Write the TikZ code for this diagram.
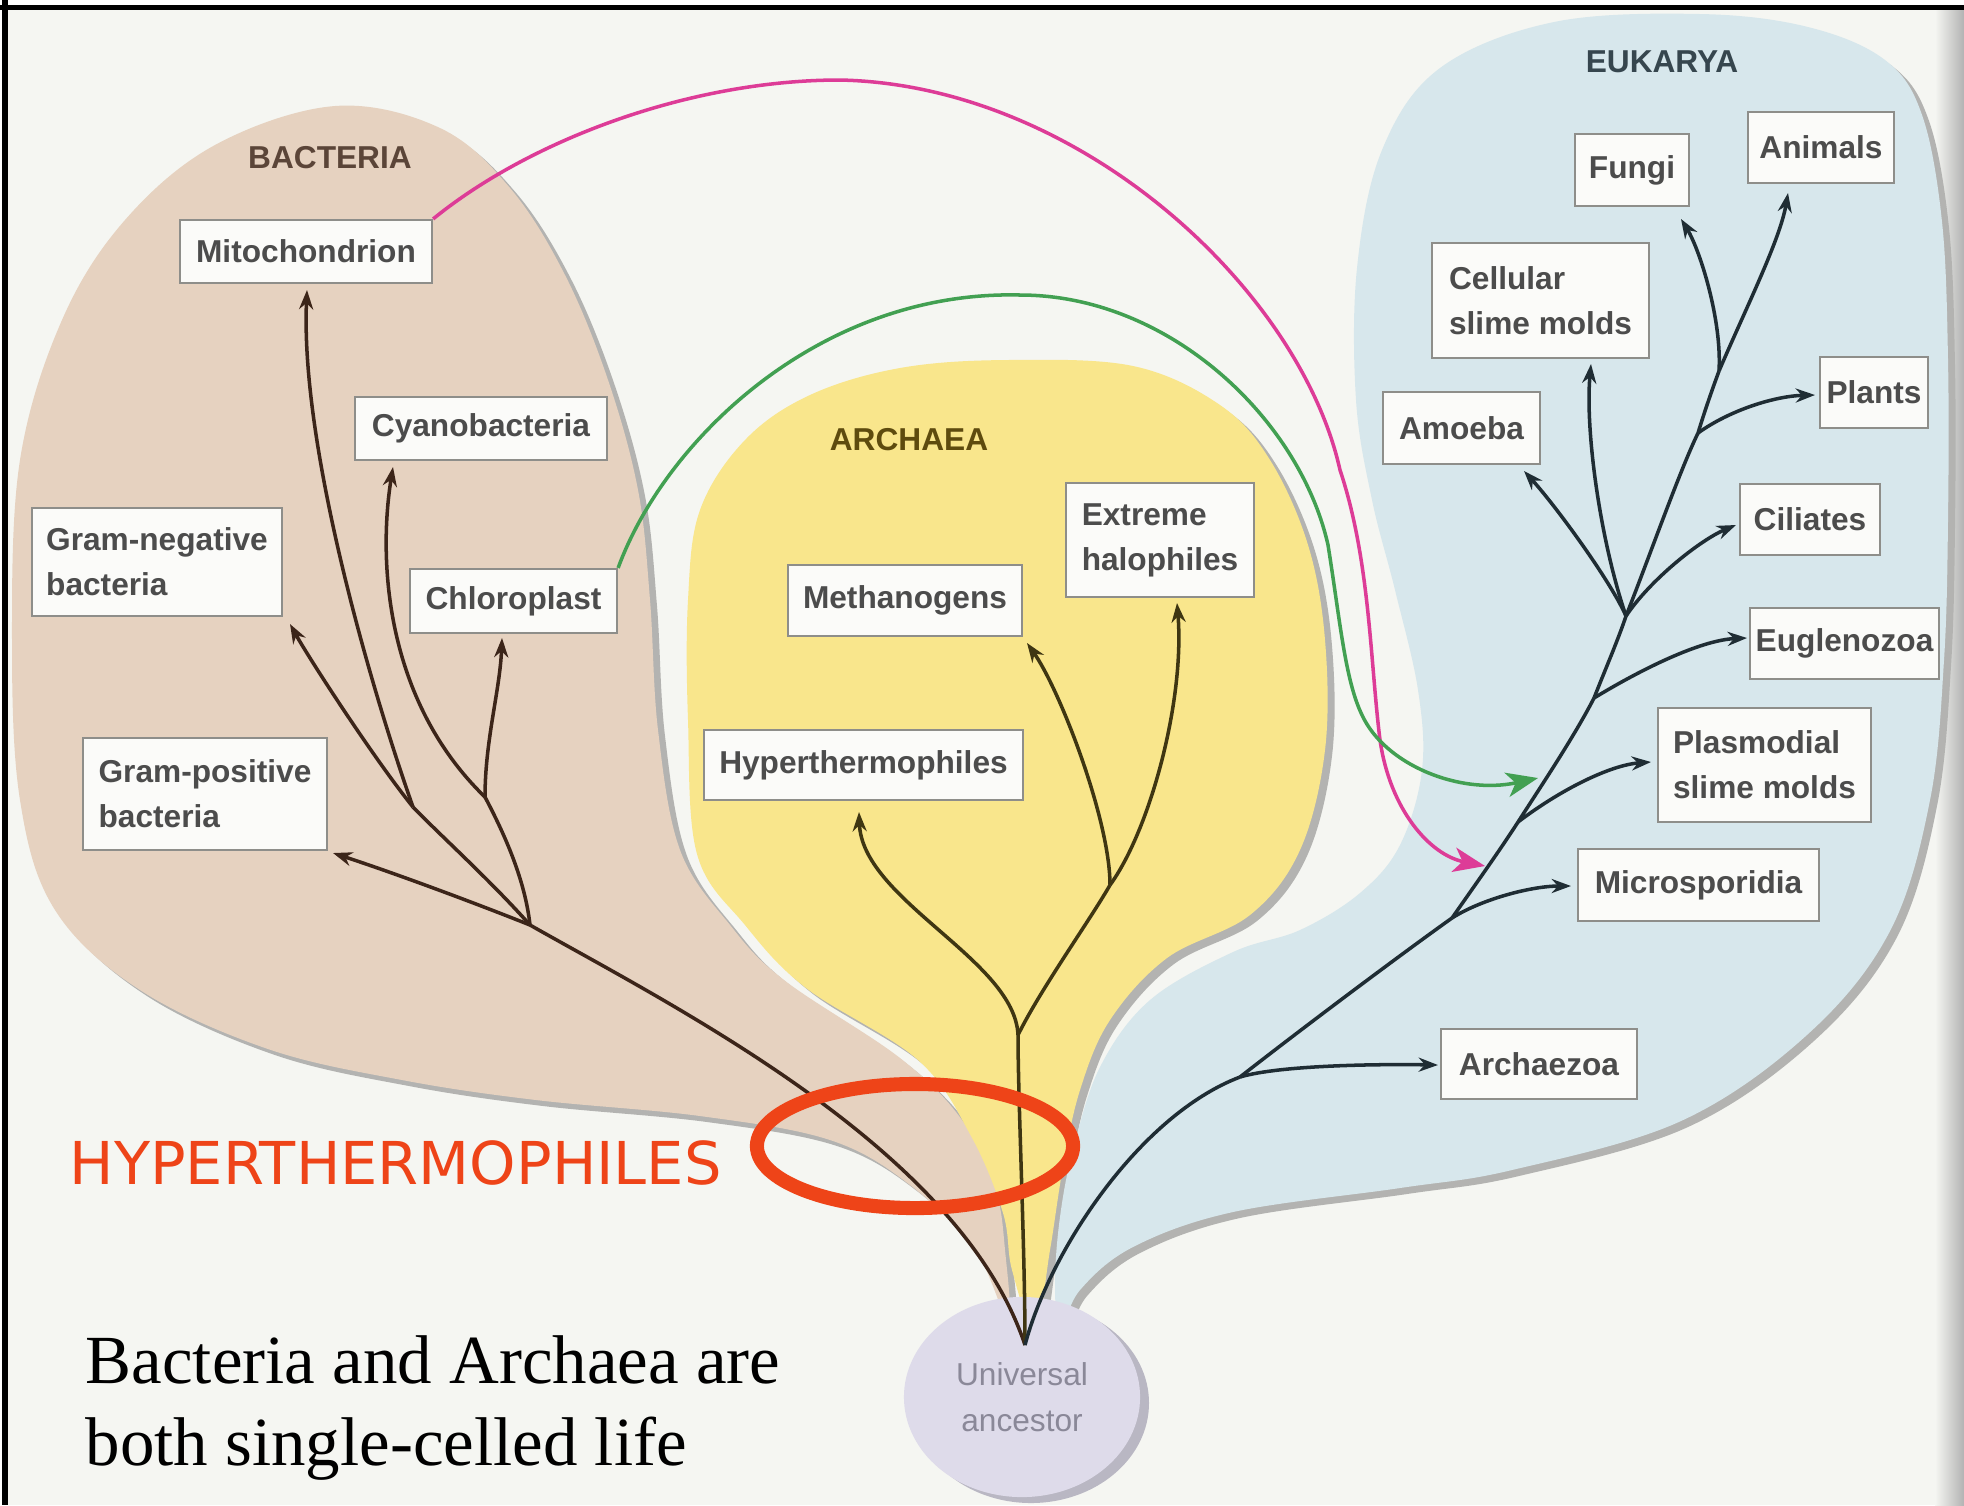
\documentclass[tikz,border=0pt]{standalone}
\usepackage{fontspec}
\setmainfont{Liberation Serif}
\setsansfont{Liberation Sans}
\newfontfamily\ringfont{DejaVu Sans}
\usetikzlibrary{arrows.meta,shapes.geometric}

\definecolor{paper}{HTML}{F5F6F2}
\definecolor{bacfill}{HTML}{E6D2C0}
\definecolor{arcfill}{HTML}{F9E68C}
\definecolor{eukfill}{HTML}{D7E7EC}
\definecolor{shadowgray}{HTML}{B3B3B1}
\definecolor{ancfill}{HTML}{DEDBEA}
\definecolor{ancshadow}{HTML}{B9B7C3}
\definecolor{anctext}{HTML}{8A8898}
\definecolor{boxline}{HTML}{8E8E8A}
\definecolor{boxfill}{HTML}{FBFBF9}
\definecolor{boxtext}{HTML}{4C4C4C}
\definecolor{bactree}{HTML}{3C2519}
\definecolor{arctree}{HTML}{3F3612}
\definecolor{euktree}{HTML}{1F2D34}
\definecolor{endomag}{HTML}{DD3C97}
\definecolor{endogreen}{HTML}{42A052}
\definecolor{ringred}{HTML}{EE4418}
\definecolor{bacword}{HTML}{5B4538}
\definecolor{arcword}{HTML}{5E4B0E}
\definecolor{eukword}{HTML}{36464E}

\tikzset{
  box/.style={draw=boxline, line width=0.6pt, fill=boxfill, text=boxtext,
    inner sep=0pt, align=left, font=\sffamily\bfseries\fontsize{9}{12.8}\selectfont},
  domain label/.style={inner sep=0pt, font=\sffamily\bfseries\fontsize{9}{11}\selectfont},
  branch/.style={line width=1pt},
  tipped/.style={branch, -{Stealth[length=5.5pt,width=4pt]}},
  transfer/.style={line width=1pt, -{Stealth[length=9pt,width=7pt,inset=2.5pt]}},
  bacblob/.pic={\path[pic actions] plot[smooth cycle, tension=0.6] coordinates {
    (335,106) (440,128) (510,188) (565,275) (608,380) (638,490) (650,600)
    (658,730) (680,850) (730,925) (784,980) (900,1058) (962,1120) (995,1188)
    (1005,1250) (1008,1320) (975,1250) (910,1185) (830,1140) (700,1116)
    (536,1100) (402,1080) (268,1049) (140,990) (55,910) (20,800) (12,640)
    (20,460) (62,320) (125,220) (215,145)};},
  arcblob/.pic={\path[pic actions] plot[smooth cycle, tension=0.6] coordinates {
    (1007,360) (1133,366) (1220,405) (1270,460) (1308,545) (1325,640)
    (1325,750) (1300,850) (1250,915) (1167,958) (1110,1020) (1080,1090)
    (1063,1167) (1050,1250) (1035,1330) (1012,1270) (1003,1213) (971,1136)
    (918,1060) (806,988) (745,925) (697,854) (688,720) (688,600) (700,510)
    (745,440) (810,395) (900,368)};},
  eukblob/.pic={\path[pic actions] plot[smooth cycle, tension=0.6] coordinates {
    (1554,22) (1700,14) (1808,27) (1885,60) (1922,115) (1942,222) (1948,360)
    (1948,520) (1944,660) (1930,800) (1890,931) (1808,1034) (1681,1121)
    (1512,1170) (1400,1188) (1233,1212) (1133,1247) (1080,1290) (1060,1330)
    (1055,1283) (1060,1217) (1073,1150) (1100,1067) (1150,1000) (1233,952)
    (1300,930) (1360,893) (1400,845) (1422,770) (1418,690) (1395,590)
    (1372,500) (1356,400) (1357,268) (1382,150) (1440,68)};},
}

\begin{document}
\begin{tikzpicture}[x=0.01cm, y=-0.01cm]
\useasboundingbox (0,0) rectangle (1964,1505);

% page
\fill[white] (0,0) rectangle (1964,1505);
\fill[paper] (5,7) rectangle (1964,1505);
\shade[left color=paper, right color=black!30] (1935,10) rectangle (1964,1505);

% domain regions with their grey rims
\pic[fill=shadowgray] at (7,6) {bacblob};
\pic[fill=shadowgray] at (7,6) {arcblob};
\pic[fill=shadowgray] at (7,6) {eukblob};
\pic[fill=bacfill] at (0,0) {bacblob};
\pic[fill=arcfill] at (0,0) {arcblob};
\pic[fill=eukfill] at (0,0) {eukblob};

% universal ancestor
\fill[ancshadow] (1031,1403) ellipse [x radius=118, y radius=100];
\node[ellipse, fill=ancfill, minimum width=2.36cm, minimum height=2cm, inner sep=0pt,
  align=center, text=anctext, font=\sffamily\fontsize{9}{13}\selectfont]
  (ancestor) at (1022,1397) {Universal\\ancestor};

% domain names
\node[domain label, text=bacword] (bactlabel) at (330,158) {BACTERIA};
\node[domain label, text=arcword] (archlabel) at (909,440) {ARCHAEA};
\node[domain label, text=eukword] (euklabel) at (1662,62) {EUKARYA};

% group boxes
\node[box, minimum width=2.52cm, minimum height=0.63cm] (mito) at (306,251.5) {Mitochondrion};
\node[box, minimum width=2.52cm, minimum height=0.63cm] (cyano) at (481,428.5) {Cyanobacteria};
\node[box, minimum width=2.50cm, minimum height=1.08cm] (gramneg) at (157,562) {Gram-negative\\bacteria};
\node[box, minimum width=2.07cm, minimum height=0.64cm] (chloro) at (513.5,601) {Chloroplast};
\node[box, minimum width=2.44cm, minimum height=1.12cm] (grampos) at (205,794) {Gram-positive\\bacteria};
\node[box, minimum width=2.34cm, minimum height=0.71cm] (methano) at (905,600.5) {Methanogens};
\node[box, minimum width=1.88cm, minimum height=1.14cm] (halo) at (1160,540) {Extreme\\halophiles};
\node[box, minimum width=3.19cm, minimum height=0.70cm] (hyper) at (863.5,765) {Hyperthermophiles};
\node[box, minimum width=1.14cm, minimum height=0.72cm] (fungi) at (1632,170) {Fungi};
\node[box, minimum width=1.46cm, minimum height=0.71cm] (animals) at (1821,147.5) {Animals};
\node[box, minimum width=2.17cm, minimum height=1.15cm] (cellular) at (1540.5,300.5) {Cellular\\slime molds};
\node[box, minimum width=1.57cm, minimum height=0.72cm] (amoeba) at (1461.5,428) {Amoeba};
\node[box, minimum width=1.08cm, minimum height=0.71cm] (plants) at (1874,392.5) {Plants};
\node[box, minimum width=1.40cm, minimum height=0.71cm] (ciliates) at (1810,519.5) {Ciliates};
\node[box, minimum width=1.89cm, minimum height=0.71cm] (eugleno) at (1844.5,643.5) {Euglenozoa};
\node[box, minimum width=2.13cm, minimum height=1.14cm] (plasmo) at (1764.5,765) {Plasmodial\\slime molds};
\node[box, minimum width=2.41cm, minimum height=0.72cm] (micro) at (1698.5,885) {Microsporidia};
\node[box, minimum width=1.96cm, minimum height=0.70cm] (archaezoa) at (1539,1064) {Archaezoa};

% branch points and arrow ends
\coordinate (root) at (1025,1345);
\coordinate (b0) at (530,925);
\coordinate (b1) at (413,807);
\coordinate (b2) at (485,797);
\coordinate (gpt) at (333,853);
\coordinate (gnt) at (290,624);
\coordinate (mtt) at (307,290);
\coordinate (cyt) at (393,467);
\coordinate (clt) at (502,638);
\coordinate (a0) at (1018,1035);
\coordinate (a1) at (1110,885);
\coordinate (hyt) at (859,812);
\coordinate (met) at (1027,643);
\coordinate (hat) at (1177,603);
\coordinate (e0) at (1240,1077);
\coordinate (e1) at (1452,918);
\coordinate (e2) at (1518,822);
\coordinate (e3) at (1594,698);
\coordinate (e4) at (1626,616);
\coordinate (e5) at (1698,433);
\coordinate (e6) at (1719,371);
\coordinate (azt) at (1438,1065);
\coordinate (mst) at (1571,886);
\coordinate (plt) at (1651,762);
\coordinate (eut) at (1747,638);
\coordinate (amt) at (1524,471);
\coordinate (cst) at (1591,364);
\coordinate (cit) at (1736,525);
\coordinate (pnt) at (1815,395);
\coordinate (fut) at (1681,219);
\coordinate (ant) at (1788,193);
\coordinate (magtip) at (1485,866);
\coordinate (grntip) at (1538,778);

% bacteria
\draw[branch, bactree] (root) .. controls (960,1150) and (680,1010) .. (b0);
\draw[tipped, bactree] (b0) .. controls (480,905) and (400,875) .. (gpt);
\draw[branch, bactree] (b0) .. controls (490,880) and (440,835) .. (b1);
\draw[branch, bactree] (b0) .. controls (525,880) and (505,835) .. (b2);
\draw[tipped, bactree] (b1) .. controls (375,760) and (310,660) .. (gnt);
\draw[tipped, bactree] (b1) .. controls (375,700) and (300,450) .. (mtt);
\draw[tipped, bactree] (b2) .. controls (385,700) and (378,560) .. (cyt);
\draw[tipped, bactree] (b2) .. controls (485,740) and (500,690) .. (clt);

% archaea
\draw[branch, arctree] (root) .. controls (1025,1250) and (1018,1100) .. (a0);
\draw[tipped, arctree] (a0) .. controls (1015,960) and (862,900) .. (hyt);
\draw[branch, arctree] (a0) .. controls (1040,990) and (1090,920) .. (a1);
\draw[tipped, arctree] (a1) .. controls (1110,820) and (1060,690) .. (met);
\draw[tipped, arctree] (a1) .. controls (1150,830) and (1185,700) .. (hat);

% eukarya
\draw[branch, euktree] (root) .. controls (1050,1250) and (1140,1115) .. (e0);
\draw[tipped, euktree] (e0) .. controls (1280,1065) and (1380,1064) .. (azt);
\draw[branch, euktree] (e0) .. controls (1300,1030) and (1400,955) .. (e1);
\draw[tipped, euktree] (e1) .. controls (1480,900) and (1530,886) .. (mst);
\draw[branch, euktree] (e1) .. controls (1475,885) and (1500,850) .. (e2);
\draw[tipped, euktree] (e2) .. controls (1560,790) and (1610,765) .. (plt);
\draw[branch, euktree] (e2) .. controls (1545,780) and (1575,735) .. (e3);
\draw[tipped, euktree] (e3) .. controls (1640,670) and (1700,640) .. (eut);
\draw[branch, euktree] (e3) .. controls (1605,670) and (1618,640) .. (e4);
\draw[tipped, euktree] (e4) .. controls (1610,580) and (1555,505) .. (amt);
\draw[tipped, euktree] (e4) .. controls (1600,540) and (1585,430) .. (cst);
\draw[tipped, euktree] (e4) .. controls (1650,580) and (1700,540) .. (cit);
\draw[branch, euktree] (e4) .. controls (1650,555) and (1680,470) .. (e5);
\draw[tipped, euktree] (e5) .. controls (1730,410) and (1775,396) .. (pnt);
\draw[branch, euktree] (e5) .. controls (1705,410) and (1712,390) .. (e6);
\draw[tipped, euktree] (e6) .. controls (1722,320) and (1700,250) .. (fut);
\draw[tipped, euktree] (e6) .. controls (1745,310) and (1780,240) .. (ant);

% endosymbiosis
\draw[transfer, endomag] (mito.north east) .. controls (530,140) and (690,80) .. (840,80)
  .. controls (1080,85) and (1300,290) .. (1340,470)
  .. controls (1370,560) and (1370,660) .. (1380,740)
  .. controls (1390,810) and (1430,855) .. (magtip);
\draw[transfer, endogreen] (chloro.north east) .. controls (665,440) and (820,290) .. (1020,295)
  .. controls (1170,295) and (1300,420) .. (1328,545)
  .. controls (1340,620) and (1345,680) .. (1362,715)
  .. controls (1385,765) and (1460,795) .. (grntip);

% annotation
\node[ellipse, draw=ringred, line width=4pt, minimum width=3.16cm, minimum height=1.24cm,
  inner sep=0pt] (ring) at (915,1146) {};
\node[anchor=base west, inner sep=0pt, text=ringred,
  font=\ringfont\fontsize{16.8}{20}\selectfont] (hyperword) at (69,1184) {HYPERTHERMOPHILES};
\node[anchor=base west, inner sep=0pt, font=\fontsize{19.6}{23.5}\selectfont]
  (capone) at (85,1383) {Bacteria and Archaea are};
\node[anchor=base west, inner sep=0pt, font=\fontsize{19.6}{23.5}\selectfont]
  (captwo) at (85,1465) {both single-celled life};

% frame
\draw[line width=1.7pt] (0,7.5) -- (1964,7.5);
\draw[line width=1.5pt] (5,0) -- (5,1505);
\end{tikzpicture}
\end{document}
